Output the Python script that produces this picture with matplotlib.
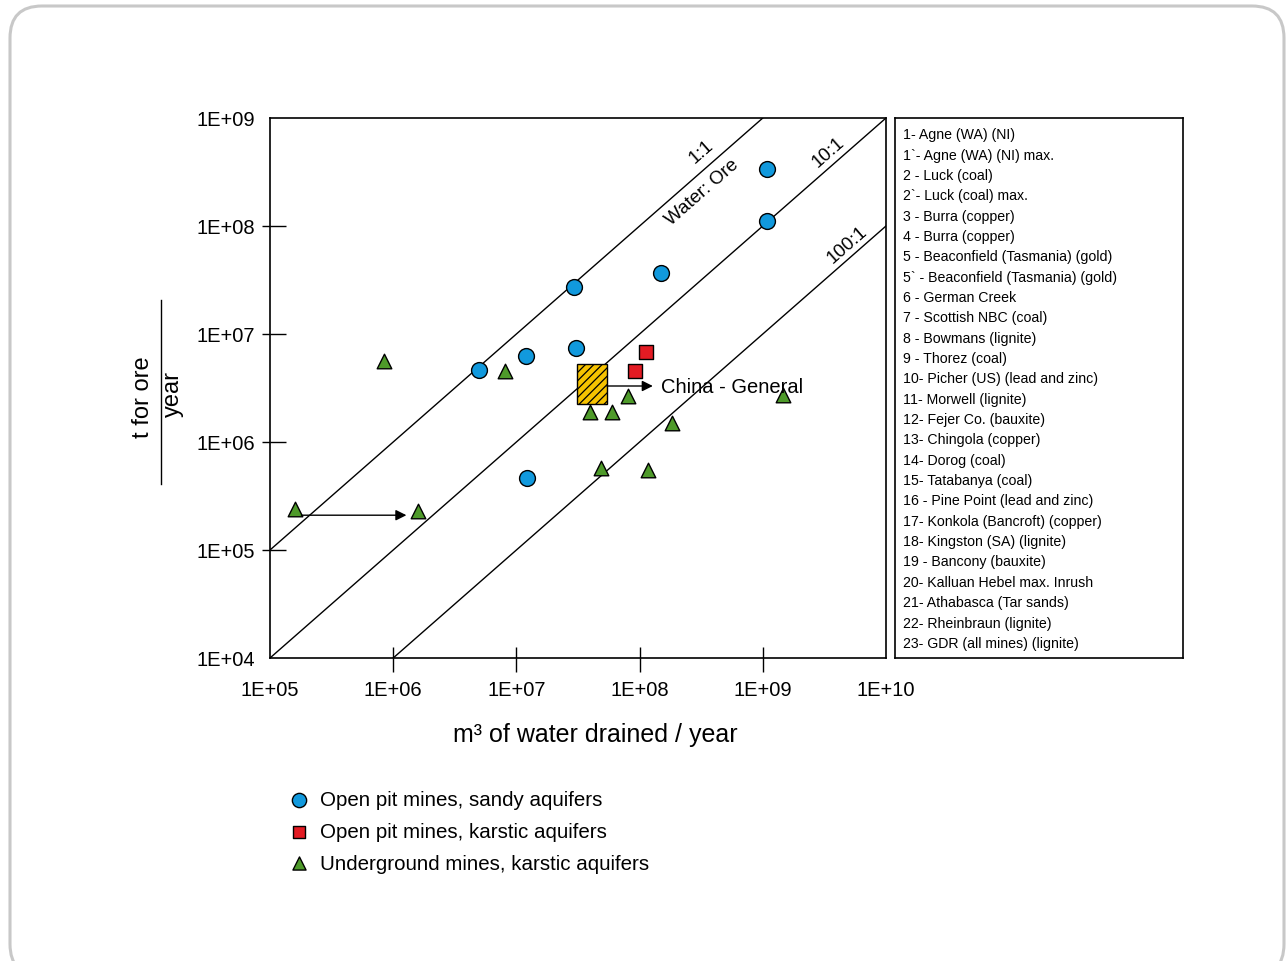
import matplotlib
matplotlib.use("Agg")
import matplotlib.pyplot as plt
import numpy as np
from matplotlib.lines import Line2D
from matplotlib.patches import FancyBboxPatch, Rectangle
from matplotlib.ticker import FixedLocator

plt.rcParams["font.family"] = ["Liberation Sans", "DejaVu Sans"]
plt.rcParams["hatch.linewidth"] = 0.9

W, H = 1288, 962

# data (m3 water / year, t ore / year)
sandy_x = [1.09e9, 1.09e9, 1.48e8, 2.94e7, 3.05e7, 1.2e7, 5.0e6, 1.22e7]
sandy_y = [3.37e8, 1.11e8, 3.67e7, 2.72e7, 7.4e6, 6.25e6, 4.65e6, 4.65e5]

karst_x = [1.12e8, 9.1e7]
karst_y = [6.8e6, 4.5e6]

under_x = [8.4e5, 8.1e6, 1.6e5, 1.6e6, 3.95e7, 5.96e7, 8.0e7, 1.82e8, 4.85e7, 1.16e8, 1.47e9]
under_y = [5.6e6, 4.5e6, 2.4e5, 2.3e5, 1.9e6, 1.9e6, 2.67e6, 1.5e6, 5.74e5, 5.5e5, 2.72e6]

# China - General range (box)
china_x = [3.1e7, 5.43e7]
china_y = [2.26e6, 5.27e6]

ratios = [1, 10, 100]

xticks = [1e5, 1e6, 1e7, 1e8, 1e9, 1e10]
xticklabels = ["1E+05", "1E+06", "1E+07", "1E+08", "1E+09", "1E+10"]
yticks = [1e4, 1e5, 1e6, 1e7, 1e8, 1e9]
yticklabels = ["1E+04", "1E+05", "1E+06", "1E+07", "1E+08", "1E+09"]

mines = [
    "1- Agne (WA) (NI)", "1`- Agne (WA) (NI) max.", "2 - Luck (coal)",
    "2`- Luck (coal) max.", "3 - Burra (copper)", "4 - Burra (copper)",
    "5 - Beaconfield (Tasmania) (gold)", "5` - Beaconfield (Tasmania) (gold)",
    "6 - German Creek", "7 - Scottish NBC (coal)", "8 - Bowmans (lignite)",
    "9 - Thorez (coal)", "10- Picher (US) (lead and zinc)", "11- Morwell (lignite)",
    "12- Fejer Co. (bauxite)", "13- Chingola (copper)", "14- Dorog (coal)",
    "15- Tatabanya (coal)", "16 - Pine Point (lead and zinc)",
    "17- Konkola (Bancroft) (copper)", "18- Kingston (SA) (lignite)",
    "19 - Bancony (bauxite)", "20- Kalluan Hebel max. Inrush",
    "21- Athabasca (Tar sands)", "22- Rheinbraun (lignite)",
    "23- GDR (all mines) (lignite)",
]

fig = plt.figure(figsize=(W / 100, H / 100), dpi=100)

# rounded outer frame
frame = FancyBboxPatch((0.10, -0.15), 12.74, 9.70,
                       boxstyle="round,pad=0,rounding_size=0.32",
                       transform=fig.dpi_scale_trans, fc="white",
                       ec="#c8c8c8", lw=2.2, zorder=-5)
fig.patches.append(frame)

ax = fig.add_axes([270 / W, 1 - 659 / H, 616 / W, 540 / H])
ax.set_xscale("log")
ax.set_yscale("log")
ax.set_xlim(1e5, 1e10)
ax.set_ylim(1e4, 1e9)
ax.patch.set_alpha(0)

# ratio lines water:ore
xl = np.array([1e5, 1e10])
for r in ratios:
    ax.plot(xl, xl / r, color="black", lw=1.0, zorder=2)

ax.scatter(sandy_x, sandy_y, s=130, marker="o", c="#1199dd", ec="black",
           lw=1.0, zorder=4, label="Open pit mines, sandy aquifers")
ax.scatter(karst_x, karst_y, s=90, marker="s", c="#e31b23", ec="black",
           lw=1.0, zorder=4, label="Open pit mines, karstic aquifers")
ax.scatter(under_x, under_y, s=110, marker="^", c="#4e9a2a", ec="black",
           lw=1.0, zorder=4, label="Underground mines, karstic aquifers")

ax.add_patch(Rectangle((china_x[0], china_y[0]), china_x[1] - china_x[0],
                       china_y[1] - china_y[0], fc="#f7c300", ec="black",
                       lw=1.0, hatch="////", zorder=3))

arrow = dict(arrowstyle="-|>", color="black", lw=1.0, mutation_scale=16,
             shrinkA=0, shrinkB=0)
ax.annotate("", xy=(1.28e8, 3.3e6), xytext=(china_x[1], 3.3e6),
            arrowprops=arrow, zorder=5)
ax.text(1.49e8, 3.3e6, "China - General", fontsize=14.5, ha="left",
        va="center", zorder=6)
ax.annotate("", xy=(1.28e6, 2.1e5), xytext=(1.8e5, 2.1e5),
            arrowprops=arrow, zorder=5)

# angle of the ratio lines on screen
p = ax.transData.transform([(1e5, 1e4), (1e10, 1e9)])
ang = np.degrees(np.arctan2(p[1, 1] - p[0, 1], p[1, 0] - p[0, 0]))
ax.text(3.2e8, 4.95e8, "1:1", rotation=ang, fontsize=13.5, ha="center",
        va="center", rotation_mode="anchor")
ax.text(3.2e8, 2.1e8, "Water: Ore", rotation=ang, fontsize=13.5,
        ha="center", va="center", rotation_mode="anchor")
ax.text(3.4e9, 4.85e8, "10:1", rotation=ang, fontsize=13.5, ha="center",
        va="center", rotation_mode="anchor")
ax.text(4.83e9, 6.8e7, "100:1", rotation=ang, fontsize=13.5, ha="center",
        va="center", rotation_mode="anchor")

# major ticks carry the labels and the inner part of the tick marks,
# minor ticks at the same places draw the outer part
ax.set_xticks(xticks)
ax.set_xticklabels(xticklabels)
ax.set_yticks(yticks)
ax.set_yticklabels(yticklabels)
ax.xaxis.set_minor_locator(FixedLocator(xticks[1:-1]))
ax.yaxis.set_minor_locator(FixedLocator(yticks[1:-1]))
ax.xaxis.remove_overlapping_locs = False
ax.yaxis.remove_overlapping_locs = False
ax.tick_params(axis="x", which="major", direction="in", length=8, width=1.0,
               labelsize=14.5, pad=15.5)
ax.tick_params(axis="x", which="minor", direction="out", length=10, width=1.0,
               labelbottom=False)
ax.tick_params(axis="y", which="major", direction="in", length=11.5, width=1.0,
               labelsize=14.5, pad=11)
ax.tick_params(axis="y", which="minor", direction="out", length=6, width=1.0,
               labelleft=False)
for t in ax.xaxis.get_major_ticks()[::len(xticks) - 1]:
    t.tick1line.set_visible(False)
for t in ax.yaxis.get_major_ticks()[::len(yticks) - 1]:
    t.tick1line.set_visible(False)
for s in ax.spines.values():
    s.set_linewidth(1.2)

ax.set_xlabel("m\u00b3 of water drained / year", fontsize=18)
ax.xaxis.set_label_coords((595 - 270) / 616, -(735 - 659) / 540)
ax.xaxis.label.set_va("center")

# y label as a fraction
fig.text(143 / W, 1 - 397 / H, "t for ore", rotation=90, fontsize=17,
         ha="center", va="center")
fig.text(173 / W, 1 - 394 / H, "year", rotation=90, fontsize=17,
         ha="center", va="center")
fig.add_artist(Line2D([161 / W, 161 / W], [1 - 301 / H, 1 - 485 / H],
                      color="black", lw=1.0, transform=fig.transFigure))

# list of mines
lx = fig.add_axes([895 / W, 1 - 659 / H, 288 / W, 540 / H])
lx.set_xticks([])
lx.set_yticks([])
for s in lx.spines.values():
    s.set_linewidth(1.2)
top, bot = 0.970, 0.028
for i, name in enumerate(mines):
    lx.text(0.028, top - i * (top - bot) / (len(mines) - 1), name,
            fontsize=10.2, ha="left", va="center", transform=lx.transAxes)

handles, labels = ax.get_legend_handles_labels()
fig.legend(handles, labels, loc="upper left",
           bbox_to_anchor=(278 / W, 1 - 781 / H), frameon=False,
           fontsize=14.8, handlelength=1.0, handletextpad=0.55,
           labelspacing=0.62, borderpad=0, markerscale=0.9)

fig.savefig("out.png", dpi=100)
